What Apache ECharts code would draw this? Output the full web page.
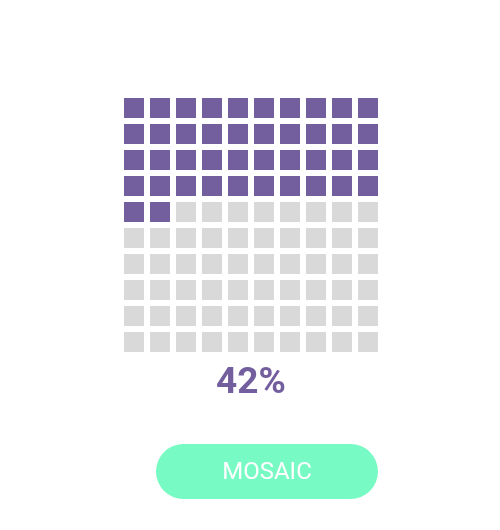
<!DOCTYPE html>
<html style="height: 100%">
   <head>
       <meta charset="utf-8">
       <script src="https://cdn.jsdelivr.net/npm/echarts@6/dist/echarts.min.js"></script>
       <title>Mosaic</title>
   </head>
   <body style="height: 100%; margin: 0; background: #fff">
       <div id="container" style="width: 500px; height: 530px"></div>
       <script type="text/javascript">

let columns = ['0', '1', '2', '3', '4', '5', '6', '7', '8', '9']
let rows = ['0', '1', '2', '3', '4', '5', '6', '7', '8', '9']
let percent = [42]
let buttonLabel = ['MOSAIC']

let filled = []
let empty = []
for (let r = 0; r < rows.length; r++) {
    for (let c = 0; c < columns.length; c++) {
        let idx = r * columns.length + c
        if (idx < percent[0]) {
            filled.push([c, r])
        } else {
            empty.push([c, r])
        }
    }
}

let dom = document.getElementById("container")
let chart = echarts.init(dom)
chart.setOption({
    animation: false,
    grid: { left: 121, top: 95, width: 260, height: 260 },
    xAxis: {
        type: 'category',
        data: columns,
        show: false
    },
    yAxis: {
        type: 'category',
        data: rows,
        inverse: true,
        show: false
    },
    series: [
        {
            type: 'scatter',
            symbol: 'rect',
            symbolSize: 20,
            itemStyle: { color: '#735f9e', opacity: 1 },
            data: filled
        },
        {
            type: 'scatter',
            symbol: 'rect',
            symbolSize: 20,
            itemStyle: { color: '#d9d9d9', opacity: 1 },
            data: empty
        }
    ],
    graphic: [
        {
            type: 'text',
            x: 251,
            y: 384,
            style: {
                text: percent[0] + '%',
                font: 'bold 37px Roboto',
                fill: '#735f9e',
                align: 'center',
                verticalAlign: 'middle'
            }
        },
        {
            type: 'group',
            left: 156,
            top: 444,
            children: [
                {
                    type: 'rect',
                    shape: { x: 0, y: 0, width: 222, height: 55, r: 27.5 },
                    style: { fill: '#77fac3' }
                },
                {
                    type: 'text',
                    x: 111,
                    y: 29,
                    style: {
                        text: buttonLabel[0],
                        font: '24px Roboto',
                        fill: '#ffffff',
                        align: 'center',
                        verticalAlign: 'middle'
                    }
                }
            ]
        }
    ]
}, true)

       </script>
   </body>
</html>
